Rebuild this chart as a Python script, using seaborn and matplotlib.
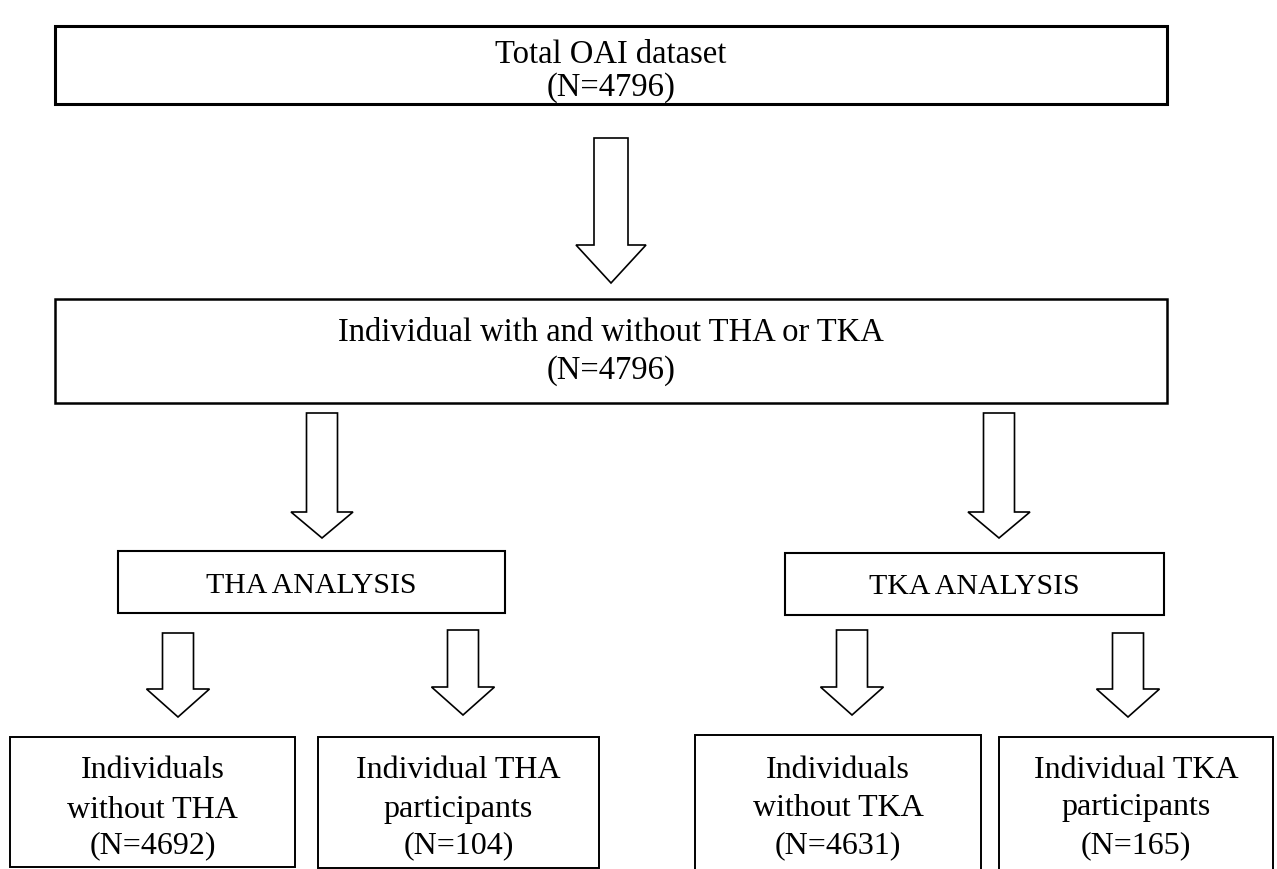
import matplotlib
matplotlib.use("Agg")
import matplotlib.pyplot as plt
import seaborn as sns
from matplotlib.patches import Rectangle, Polygon

# --- flowchart content ---
box_labels = [
    ["Total OAI dataset", "(N=4796)"],
    ["Individual with and without THA or TKA", "(N=4796)"],
    ["THA ANALYSIS"],
    ["TKA ANALYSIS"],
    ["Individuals", "without THA", "(N=4692)"],
    ["Individual THA", "participants", "(N=104)"],
    ["Individuals", "without TKA", "(N=4631)"],
    ["Individual TKA", "participants", "(N=165)"],
]

# --- layout in pixels (x0, y0, x1, y1), y measured from top ---
box_geom = [
    (55, 26, 1167, 104),
    (55, 299, 1167, 403),
    (118, 551, 505, 613),
    (785, 553, 1164, 615),
    (10, 737, 295, 867),
    (318, 737, 599, 868),
    (695, 735, 981, 905),
    (999, 737, 1273, 905),
]
box_lw = [2.2, 1.8, 1.5, 1.5, 1.4, 1.4, 1.4, 1.4]
box_fs = [23.5, 23.5, 21.5, 21.5, 23, 23, 23, 23]
text_y = [
    [52, 85],
    [330, 368],
    [583],
    [584],
    [768, 807, 843],
    [768, 807, 843],
    [767, 805, 843],
    [767, 805, 843],
]
y_shift = 3  # Liberation Serif sits a bit high with va="center"

# arrows: (center x, top, tip, shaft width, head width, head height)
arrows = [
    (611, 138, 283, 34, 70, 38),
    (322, 413, 538, 31, 62, 26),
    (999, 413, 538, 31, 62, 26),
    (178, 633, 717, 31, 63, 28),
    (463, 630, 715, 31, 63, 28),
    (852, 630, 715, 31, 63, 28),
    (1128, 633, 717, 31, 63, 28),
]

sns.set_theme(style="white")
plt.rcParams['font.family'] = ['Liberation Serif', 'DejaVu Serif']

W, H = 1277, 869
fig = plt.figure(figsize=(W / 100, H / 100), dpi=100)
ax = fig.add_axes([0, 0, 1, 1])
ax.set_xlim(0, W)
ax.set_ylim(H, 0)
ax.axis("off")

for (x0, y0, x1, y1), lw, fs, lines, ys in zip(box_geom, box_lw, box_fs,
                                               box_labels, text_y):
    ax.add_patch(Rectangle((x0, y0), x1 - x0, y1 - y0, facecolor="white",
                           edgecolor="black", lw=lw))
    cx = (x0 + x1) / 2
    for txt, ty in zip(lines, ys):
        ax.text(cx, ty + y_shift, txt, ha="center", va="center", fontsize=fs,
                color="black")

for cx, top, tip, sw, hw, hh in arrows:
    hs = tip - hh
    pts = [
        (cx - sw / 2, top), (cx + sw / 2, top), (cx + sw / 2, hs),
        (cx + hw / 2, hs), (cx, tip), (cx - hw / 2, hs), (cx - sw / 2, hs),
    ]
    ax.add_patch(Polygon(pts, closed=True, facecolor="white",
                         edgecolor="black", lw=1.2, joinstyle="miter"))

fig.savefig("out.png", dpi=100, facecolor="white")
